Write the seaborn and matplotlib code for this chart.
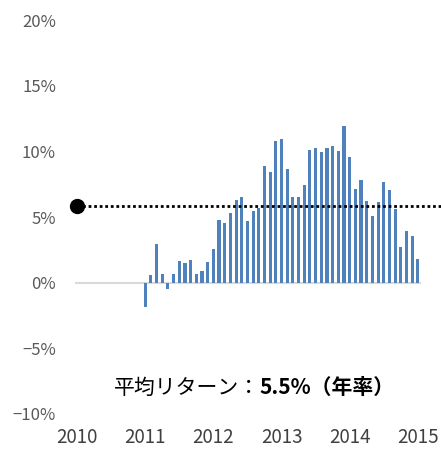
import numpy as np
import pandas as pd
import matplotlib
matplotlib.use('Agg')
import matplotlib.pyplot as plt
import seaborn as sns
from matplotlib.ticker import FuncFormatter

# --- data ---
# monthly return (%), Jan 2011 .. Jan 2015
months = pd.date_range('2011-01-01', '2015-01-01', freq='MS')
returns = [-1.85, 0.55, 2.95, 0.66, -0.5, 0.63, 1.63, 1.47, 1.73, 0.66, 0.89, 1.58,
           2.6, 4.8, 4.53, 5.27, 6.3, 6.5, 4.7, 5.47, 5.7, 8.9, 8.45, 10.8,
           10.95, 8.63, 6.52, 6.56, 7.4, 10.1, 10.25, 9.92, 10.23, 10.38, 10.05, 11.9,
           9.6, 7.15, 7.79, 6.2, 5.11, 6.18, 7.63, 7.02, 5.6, 2.7, 3.94, 3.59,
           1.83]
avg_level = 5.8
avg_label_head = '平均リターン：'
avg_label_tail = '5.5%（年率）'
year_ticks = [2010, 2011, 2012, 2013, 2014, 2015]
pct_ticks = [-10, -5, 0, 5, 10, 15, 20]

sns.set_style('white')
plt.rcParams['font.family'] = ['Noto Sans CJK JP', 'DejaVu Sans']

df = pd.DataFrame({'t': months.year + (months.month - 1) / 12, 'ret': returns})

W, H = 441, 449
fig = plt.figure(figsize=(W / 100, H / 100), dpi=100)
left_px, right_px, top_px, bot_px = 66.8, 441, 20, 414
ax = fig.add_axes([left_px / W, 1 - bot_px / H, (right_px - left_px) / W, (bot_px - top_px) / H])

# zero line behind the bars
ax.hlines(0, year_ticks[0] - 0.03, year_ticks[-1] + 0.05, colors='#d9d9d9', lw=1.5, zorder=0.5)

sns.barplot(data=df, x='t', y='ret', native_scale=True,
            color='#4F81BD', saturation=1, errorbar=None, linewidth=0, ax=ax)

# bars take ~55% of a month
bar_w = 0.55 / 12
for p in ax.patches:
    cx = p.get_x() + p.get_width() / 2
    p.set_width(bar_w)
    p.set_x(cx - bar_w / 2)

# average line with dot
ax.hlines(avg_level, year_ticks[0], year_ticks[-1] + 0.5, colors='black',
          linestyles=(0, (1, 1)), lw=2, zorder=3)
ax.plot(year_ticks[0], avg_level, 'o', ms=10, color='black', zorder=4, clip_on=False)

ax.text(2012.68, -8.0, avg_label_head, ha='right', va='center', fontsize=15, color='black')
ax.text(2012.68, -8.0, avg_label_tail, ha='left', va='center', fontsize=15,
        fontweight='bold', color='black')

ax.set_xlim(2009.85, 2015.34)
ax.set_ylim(-10, 20)
ax.set_xticks(year_ticks)
ax.set_xticklabels([str(y) for y in year_ticks])
ax.set_yticks(pct_ticks)
ax.yaxis.set_major_formatter(FuncFormatter(lambda v, p: f'{v:.0f}%'.replace('-', '\u2212')))
ax.tick_params(axis='x', length=0, pad=9.5, labelsize=13.5, colors='#404040')
ax.tick_params(axis='y', length=0, pad=7.8, labelsize=12, colors='#595959')
ax.set_xlabel('')
ax.set_ylabel('')
sns.despine(ax=ax, left=True, bottom=True)

fig.savefig('out.png', dpi=100)
